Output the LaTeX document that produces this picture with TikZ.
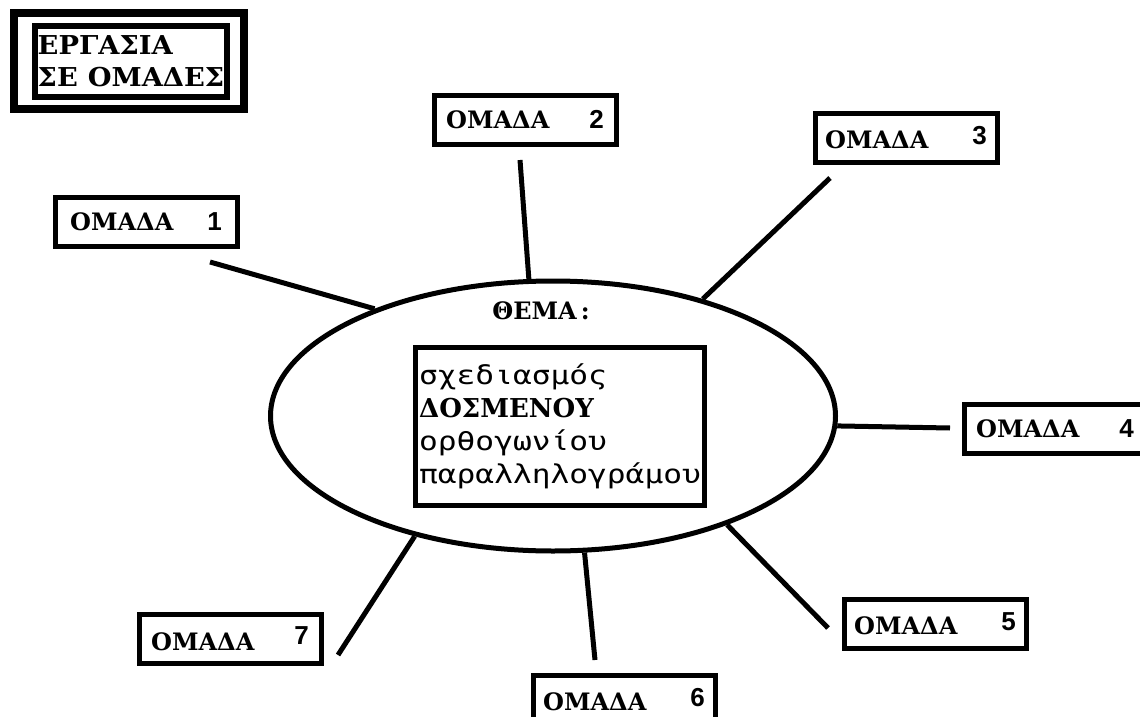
\documentclass[tikz,border=0pt]{standalone}
\usepackage{fontspec}
\setmainfont{Liberation Serif}
\newfontfamily\boxfont{DejaVu Serif}
\newfontfamily\titlefont[FakeStretch=1.05]{DejaVu Serif}
\newfontfamily\lowfont[FakeStretch=1.2]{DejaVu Sans Mono}
\newfontfamily\numfont{Liberation Sans}
\usetikzlibrary{shapes.geometric}

\begin{document}
\begin{tikzpicture}[x=0.5pt,y=-0.5pt,line width=2.5pt,
    grp/.style={draw,line width=2.5pt,minimum width=91pt,minimum height=24.5pt,
      inner sep=0pt,font=\boxfont\bfseries\fontsize{12}{14}\selectfont},
    digit/.style={font=\numfont\fontsize{13}{15}\selectfont},
    topicbox/.style={draw,line width=2.5pt,minimum width=144.5pt,minimum height=79pt,
      inner sep=0pt,align=left,font=\fontsize{13}{16.5}\selectfont}]
    \clip (0,0) rectangle (1140,717);
    \fill[white] (0,0) rectangle (1140,717);

    \draw[line width=4pt] (14,13) rectangle (244,109);
    \node[draw,line width=3pt,minimum width=96pt,minimum height=35.5pt,inner sep=0pt,
      align=left,font=\titlefont\bfseries\fontsize{13}{16}\selectfont]
      (title) at (131,61.5) {ΕΡΓΑΣΙΑ\\ΣΕ\hspace{5pt}ΟΜΑΔΕΣ};

    \node[draw,ellipse,minimum width=282.5pt,minimum height=135pt,inner sep=0pt] (thema) at (553,416) {};
    \node[font=\boxfont\bfseries\fontsize{12}{14}\selectfont] (label) at (541,311) {ΘΕΜΑ\,:};
    \node[topicbox] (topic) at (560,426.5)
      {{\lowfont σχεδιασμός}\\{\boxfont\bfseries ΔΟΣΜΕΝΟΥ}\\{\lowfont ορθογωνίου}\\{\lowfont παραλληλογράμου}};

    \node[grp] (g1) at (146,222) {ΟΜΑΔΑ\hspace{17pt}{\numfont\fontsize{13}{15}\selectfont 1}};
    \node[grp] (g2) at (525,120) {ΟΜΑΔΑ\hspace{20pt}{\numfont\fontsize{13}{15}\selectfont 2}};
    \node[grp] (g3) at (906,138) {ΟΜΑΔΑ\hspace{22pt}\raisebox{2pt}{\numfont\fontsize{13}{15}\selectfont 3}};
    \node[grp] (g4) at (1055,429) {ΟΜΑΔΑ\hspace{20pt}{\numfont\bfseries\fontsize{13}{15}\selectfont 4}};
    \node[grp] (g5) at (935,624) {ΟΜΑΔΑ\hspace{22pt}\raisebox{2pt}{\numfont\fontsize{13}{15}\selectfont 5}};
    \node[grp] (g6) at (624,700) {ΟΜΑΔΑ\hspace{22pt}\raisebox{2pt}{\numfont\fontsize{13}{15}\selectfont 6}};
    \node[grp] (g7) at (230,639) {ΟΜΑΔΑ\hspace{20pt}\raisebox{3pt}{\numfont\fontsize{13}{15}\selectfont 7}};

    \coordinate (e1) at (210,262);
    \coordinate (e2) at (520,160);
    \coordinate (e3) at (830,178);
    \coordinate (e4) at (950,428);
    \coordinate (e5) at (828,628);
    \coordinate (e6) at (595,660);
    \coordinate (e7) at (338,655);

    \draw (thema.149) -- (e1);
    \draw (thema.100.7) -- (e2);
    \draw (thema.38.7) -- (e3);
    \draw (thema.-2) -- (e4);
    \draw (thema.-32.6) -- (e5);
    \draw (thema.-77.2) -- (e6);
    \draw (thema.221.6) -- (e7);
\end{tikzpicture}
\end{document}
